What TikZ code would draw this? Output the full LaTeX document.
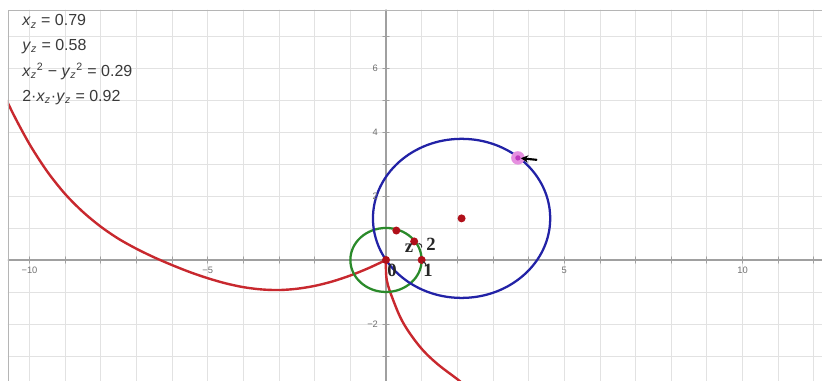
\documentclass[tikz,border=0pt]{standalone}
\usepackage{fontspec}
\setmainfont{Liberation Sans}
\newfontfamily\ptfont{Liberation Serif}
\usetikzlibrary{arrows.meta}
\definecolor{GridGray}{HTML}{E2E2E2}
\definecolor{AxisGray}{HTML}{A0A0A0}
\definecolor{TickGray}{HTML}{707070}
\definecolor{PanelText}{HTML}{3A3A3A}
\definecolor{TraceRed}{HTML}{C8282E}
\definecolor{DotRed}{HTML}{B0101A}
\definecolor{ImageBlue}{HTML}{2222A6}
\definecolor{UnitGreen}{HTML}{2A8A2A}
\definecolor{DragPink}{HTML}{E690E0}
\definecolor{DragCore}{HTML}{C23CC0}
\newcommand{\zsub}{\textsubscript{\itshape z}}

\begin{document}
\begin{tikzpicture}[
  x=26.74pt, y=24pt,
  line cap=round, line join=round,
  >=Stealth,
  dotred/.style={circle, fill=DotRed, inner sep=0pt, minimum size=6pt},
  ptlabel/.style={font=\ptfont\bfseries\fontsize{14}{14}\selectfont, text=black!85, inner sep=0pt},
  ticklabel/.style={font=\fontsize{7}{7}\selectfont, text=TickGray, inner sep=0pt},
  readout/.style={font=\fontsize{12}{14}\selectfont, text=PanelText, anchor=west, inner sep=0pt}
]

% Page and plot area
\useasboundingbox (-10.828,-3.781) rectangle (12.230,8.125);
\fill[white] (-10.828,-3.781) rectangle (12.230,8.125);

\begin{scope}
\clip (-10.604,-3.781) rectangle (12.230,7.8125);

% === Grid ===
\foreach \x in {-10,...,12} {
  \draw[GridGray, line width=0.6pt] (\x,-3.781) -- (\x,7.8125);
}
\foreach \y in {-3,...,7} {
  \draw[GridGray, line width=0.6pt] (-10.604,\y) -- (12.230,\y);
}

% === Axes and ticks ===
\draw[AxisGray, line width=0.8pt] (-10.604,0) -- (12.230,0);
\draw[AxisGray, line width=0.8pt] (0,-3.781) -- (0,7.8125);
\foreach \x in {-10,...,12} {
  \draw[AxisGray, line width=0.6pt] (\x,-0.1) -- (\x,0.1);
}
\foreach \y in {-3,...,7} {
  \draw[AxisGray, line width=0.6pt] (-0.09,\y) -- (0.09,\y);
}

% === Red trace (two branches meeting at the origin) ===
\draw[TraceRed, line width=1.8pt]
  plot[smooth, tension=0.5] coordinates {
    (-11,5.86) (-10.5,4.66) (-10,3.62) (-9.5,2.76) (-9,2.06) (-8.5,1.50)
    (-8,1.04) (-7.5,0.66) (-7,0.35) (-6.5,0.08) (-6,-0.16) (-5.5,-0.38)
    (-5,-0.57) (-4.5,-0.73) (-4,-0.85) (-3.5,-0.92) (-3,-0.94) (-2.5,-0.90)
    (-2,-0.81) (-1.5,-0.67) (-1,-0.485) (-0.5,-0.26) (0,0)};
\draw[TraceRed, line width=1.8pt]
  plot[smooth, tension=0.6] coordinates {
    (0,0) (0.02,-0.62) (0.20,-1.25) (0.49,-1.98) (0.95,-2.71)
    (1.42,-3.23) (2.03,-3.75) (2.15,-3.88)};

% === Unit circle and image circle ===
\draw[UnitGreen, line width=1.7pt] (0,0) circle [x radius=1, y radius=1];
\draw[ImageBlue, line width=1.7pt] (2.12,1.30) circle [x radius=2.486, y radius=2.486];
\end{scope}

% Frame edges
\draw[GridGray!80!black, line width=0.5pt] (-10.604,-3.781) -- (-10.604,7.8125) -- (12.230,7.8125);

% === Axis numbers ===
\foreach \x/\t in {-10/{−10}, -5/{−5}, 5/{5}, 10/{10}} {
  \node[ticklabel] (xnum\x) at (\x,-0.3125) {\t};
}
\foreach \y/\t in {6/{6}, 4/{4}, 2/{2}, -2/{−2}} {
  \node[ticklabel, anchor=east] (ynum\y) at (-0.22,\y) {\t};
}

% === Points ===
\node[dotred] (orig) at (0,0) {};
\node[dotred] (one) at (1,0) {};
\node[dotred] (zpt) at (0.79,0.58) {};
\node[dotred] (zsq) at (0.29,0.92) {};
\node[dotred] (ctr) at (2.12,1.30) {};

% dragged point on the blue circle, with the pointer
\fill[DragPink] (3.70,3.19) circle [x radius=0.19, y radius=0.21];
\node[circle, fill=DragCore, inner sep=0pt, minimum size=4pt] (drag) at (3.70,3.19) {};
\coordinate (cursor) at (4.22,3.13);
\draw[black, line width=1.6pt, -{Stealth[length=5.5pt,width=5.5pt]}] (cursor) -- (drag);

% small marks beside z and 1
\draw[black!80, line width=0.8pt] (0.92,0.52) -- (0.99,0.47) -- (1.00,0.40);
\draw[black!80, line width=0.8pt] (1.04,-0.06) -- (1.11,-0.11) -- (1.12,-0.19);

% === Point labels ===
\node[ptlabel] (lblorig) at (0.17,-0.31) {0};
\node[ptlabel] (lblone) at (1.18,-0.31) {1};
\node[ptlabel] (lblz) at (0.645,0.36) {z};
\node[ptlabel] (lbltwo) at (1.26,0.50) {2};

% === Readout panel ===
\node[readout] (xz) at (-10.21,7.45) {\textit{x}\zsub{} = 0.79};
\node[readout] (yz) at (-10.21,6.67) {\textit{y}\zsub{} = 0.58};
\node[readout] (re) at (-10.21,5.90) {\textit{x}\zsub\textsuperscript{2} − \textit{y}\zsub\textsuperscript{2} = 0.29};
\node[readout] (im) at (-10.21,5.08) {2·\textit{x}\zsub·\textit{y}\zsub{} = 0.92};

\end{tikzpicture}
\end{document}
